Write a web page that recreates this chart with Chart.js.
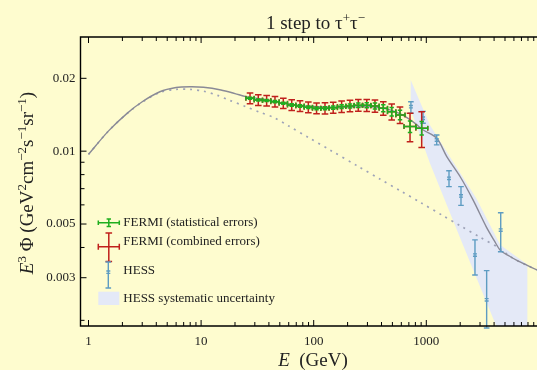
<!DOCTYPE html>
<html>
<head>
<meta charset="utf-8">
<script src="https://cdn.jsdelivr.net/npm/chart.js@4.4.1/dist/chart.umd.min.js"></script>
<style>
  html, body { margin: 0; padding: 0; background: #fefccf; overflow: hidden; }
  canvas { display: block; }
</style>
</head>
<body>
<canvas id="chart" width="537" height="370"></canvas>
<script>
// ---- values ----

// total model (signal + background), solid line
const modelE = [1, 1.5, 2.2, 3, 4.3, 6, 8, 10.5, 15, 20, 25, 35, 50, 70, 100, 150, 200, 300, 400, 500, 600, 700, 800, 940, 1240, 1520, 2000, 2600, 3400, 4000, 4540, 5500, 6500, 7800, 9620];
const modelV = [0.0097, 0.0121, 0.01433, 0.0160, 0.0176, 0.01832, 0.01845, 0.01836, 0.0179, 0.0173, 0.0168, 0.0164, 0.0159, 0.0155, 0.0153, 0.0152, 0.0152, 0.0153, 0.0151, 0.0147, 0.0142, 0.0136, 0.0130, 0.01223, 0.0113, 0.00949, 0.00784, 0.00629, 0.00488, 0.00428, 0.0039, 0.00368, 0.00352, 0.00338, 0.00323];

// background only, dotted line
const bgE = [1, 1.5, 2.2, 3, 4.3, 6, 8, 10.5, 14, 18, 25, 33, 44, 60, 90, 140, 250, 390, 600, 880, 1400, 2000, 3000, 4540, 5500, 6500, 7800, 9620];
const bgV = [0.0097, 0.0121, 0.0143, 0.01595, 0.0175, 0.0180, 0.0180, 0.0177, 0.0170, 0.0162, 0.01527, 0.0145, 0.0138, 0.0127, 0.01138, 0.0101, 0.00864, 0.00766, 0.00682, 0.00615, 0.00542, 0.00492, 0.00441, 0.00395, 0.00368, 0.00352, 0.00338, 0.00323];

// FERMI points
const fermiE   = [27.2, 32.2, 38.2, 45.3, 53.7, 63.8, 75.6, 89.6, 106, 126, 149, 177, 210, 249, 296, 350, 415, 493, 584, 717, 910];
const fermiELo = [25.0, 29.6, 35.1, 41.6, 49.3, 58.5, 69.4, 82.3, 97.5, 115.6, 137, 162.4, 192.8, 228.7, 271.5, 321.9, 381.1, 452.3, 536.6, 634, 808];
const fermiEHi = [29.6, 35.1, 41.6, 49.3, 58.5, 69.4, 82.3, 97.5, 115.6, 137, 162.4, 192.8, 228.7, 271.5, 321.9, 381.1, 452.3, 536.6, 647, 808, 1030];
const fermiV    = [0.01654, 0.01628, 0.01618, 0.01602, 0.01578, 0.01552, 0.01538, 0.01518, 0.01504, 0.01504, 0.01513, 0.01528, 0.01538, 0.01548, 0.01548, 0.01538, 0.01504, 0.01456, 0.01412, 0.01264, 0.01245];
const fermiStat = [0.00015, 0.00015, 0.00015, 0.00016, 0.00016, 0.00017, 0.00018, 0.00019, 0.0002, 0.00022, 0.00024, 0.00026, 0.0003, 0.00033, 0.00038, 0.00043, 0.0005, 0.0006, 0.00065, 0.0007, 0.0008];
const fermiComb = [0.00085, 0.00083, 0.0008, 0.0008, 0.00078, 0.00078, 0.00078, 0.00078, 0.00078, 0.0008, 0.0008, 0.00082, 0.00084, 0.00086, 0.00088, 0.0009, 0.00095, 0.0011, 0.0011, 0.0017, 0.0021];

// HESS points
const hessE  = [730, 935, 1237, 1591, 2033, 2706, 3436, 4581];
const hessV  = [0.01527, 0.01368, 0.01112, 0.00772, 0.00653, 0.00372, 0.00243, 0.00472];
const hessLo = [0.01434, 0.01304, 0.01062, 0.00714, 0.00597, 0.00308, 0.00186, 0.00384];
const hessHi = [0.01601, 0.0146, 0.01166, 0.0083, 0.00714, 0.0043, 0.00321, 0.00557];

// HESS systematic band outline
const bandE = [727, 1079, 1690, 2770, 4540, 7900, 7900, 4700, 2118, 1079, 730, 727];
const bandV = [0.0197, 0.0128, 0.0092, 0.0064, 0.0041, 0.0034, 0.0015, 0.00166, 0.0041, 0.0089, 0.0148, 0.0197];

// ticks
const xMajorTicks = [1, 10, 100, 1000];
const xMinorTicks = [2, 3, 4, 5, 6, 7, 8, 9, 20, 30, 40, 50, 60, 70, 80, 90, 200, 300, 400, 500, 600, 700, 800, 900, 2000, 3000, 4000, 5000, 6000, 7000, 8000, 9000];
const yMajorTicks = [0.003, 0.005, 0.01, 0.02];
const yMinorTicks = [0.002, 0.004, 0.006, 0.007, 0.008, 0.009];

const GREEN = '#1fae1f';
const RED = '#c0201c';
const HESS_BLUE = '#5e9cc2';
const BAND = '#e4e9f7';
const SERIF = '"Liberation Serif", "DejaVu Serif", serif';

const pts = (xs, ys) => xs.map((e, i) => ({ x: e, y: ys[i] }));

// vertical bar with horizontal caps
function vbar(ctx, x, y0, y1, cap) {
    ctx.beginPath();
    ctx.moveTo(x, y0); ctx.lineTo(x, y1);
    ctx.moveTo(x - cap, y0); ctx.lineTo(x + cap, y0);
    ctx.moveTo(x - cap, y1); ctx.lineTo(x + cap, y1);
    ctx.stroke();
}

// horizontal bar with vertical caps
function hbar(ctx, x0, x1, y, cap) {
    ctx.beginPath();
    ctx.moveTo(x0, y); ctx.lineTo(x1, y);
    ctx.moveTo(x0, y - cap); ctx.lineTo(x0, y + cap);
    ctx.moveTo(x1, y - cap); ctx.lineTo(x1, y + cap);
    ctx.stroke();
}

// text made of runs: [text, font, dy]
function richText(ctx, parts, x, y) {
    let w = 0;
    parts.forEach(p => { ctx.font = p[1]; w += ctx.measureText(p[0]).width; });
    let cx = x - w / 2;
    parts.forEach(p => {
        ctx.font = p[1];
        ctx.fillText(p[0], cx, y + p[2]);
        cx += ctx.measureText(p[0]).width;
    });
}

// error bars for the data points
const errorBars = {
    id: 'errorBars',
    afterDatasetsDraw(chart) {
        const { ctx, scales: { x, y }, chartArea: a } = chart;
        ctx.save();

        // HESS
        ctx.strokeStyle = HESS_BLUE;
        ctx.lineWidth = 1.4;
        hessE.forEach((e, i) => {
            const px = x.getPixelForValue(e);
            vbar(ctx, px, y.getPixelForValue(hessHi[i]), y.getPixelForValue(hessLo[i]), 2.8);
            const py = y.getPixelForValue(hessV[i]);
            ctx.beginPath();
            ctx.moveTo(px - 2, py - 1.2); ctx.lineTo(px + 2, py - 1.2);
            ctx.moveTo(px - 2, py + 1.2); ctx.lineTo(px + 2, py + 1.2);
            ctx.stroke();
        });

        ctx.beginPath();
        ctx.rect(a.left, a.top, a.right - a.left, a.bottom - a.top);
        ctx.clip();

        // FERMI combined errors
        ctx.strokeStyle = RED;
        ctx.lineWidth = 1.5;
        fermiE.forEach((e, i) => {
            const px = x.getPixelForValue(e);
            const py = y.getPixelForValue(fermiV[i]);
            vbar(ctx, px, y.getPixelForValue(fermiV[i] + fermiComb[i]), y.getPixelForValue(fermiV[i] - fermiComb[i]), 3.3);
            hbar(ctx, x.getPixelForValue(fermiELo[i]), x.getPixelForValue(fermiEHi[i]), py, 2.5);
        });

        // FERMI statistical errors
        ctx.strokeStyle = GREEN;
        ctx.lineWidth = 1.5;
        fermiE.forEach((e, i) => {
            const px = x.getPixelForValue(e);
            const py = y.getPixelForValue(fermiV[i]);
            hbar(ctx, x.getPixelForValue(fermiELo[i]), x.getPixelForValue(fermiEHi[i]), py, 2.2);
            vbar(ctx, px, y.getPixelForValue(fermiV[i] + fermiStat[i]), y.getPixelForValue(fermiV[i] - fermiStat[i]), 2.2);
        });
        ctx.restore();
    }
};

// frame, inward ticks, titles and legend
const decorations = {
    id: 'decorations',
    afterDraw(chart) {
        const { ctx, scales: { x, y }, chartArea: a } = chart;
        ctx.save();

        // frame (right side falls outside the picture)
        ctx.strokeStyle = '#000';
        ctx.lineWidth = 1.4;
        ctx.beginPath();
        ctx.moveTo(a.right + 2, a.top); ctx.lineTo(a.left, a.top);
        ctx.lineTo(a.left, a.bottom); ctx.lineTo(a.right + 2, a.bottom);
        ctx.stroke();

        ctx.lineWidth = 1;
        const xTick = (v, len) => {
            const px = x.getPixelForValue(v);
            ctx.beginPath();
            ctx.moveTo(px, a.bottom); ctx.lineTo(px, a.bottom - len);
            ctx.moveTo(px, a.top); ctx.lineTo(px, a.top + len);
            ctx.stroke();
        };
        const yTick = (v, len) => {
            const py = y.getPixelForValue(v);
            ctx.beginPath();
            ctx.moveTo(a.left, py); ctx.lineTo(a.left + len, py);
            ctx.stroke();
        };
        xMajorTicks.forEach(v => xTick(v, 6));
        xMinorTicks.forEach(v => xTick(v, 4));
        yMajorTicks.forEach(v => yTick(v, 6));
        yMinorTicks.forEach(v => yTick(v, 4));

        ctx.fillStyle = '#222';
        ctx.textBaseline = 'alphabetic';

        // title
        richText(ctx, [
            ['1 step to \u03c4', '19px ' + SERIF, 0],
            ['+', '13px ' + SERIF, -7],
            ['\u03c4', '19px ' + SERIF, 0],
            ['\u2212', '13px ' + SERIF, -7]
        ], 315.5, 29);

        // x axis title
        richText(ctx, [
            ['E', 'italic 19px ' + SERIF, 0],
            ['  (GeV)', '19px ' + SERIF, 0]
        ], 313, 366);

        // y axis title
        ctx.save();
        ctx.translate(33, 183);
        ctx.rotate(-Math.PI / 2);
        const big = '19px ' + SERIF, sup = '13px ' + SERIF;
        richText(ctx, [
            ['E', 'italic ' + big, 0],
            ['3', sup, -7.5],
            [' \u03a6 (GeV', big, 0],
            ['2', sup, -7.5],
            ['cm', big, 0],
            ['\u22122', sup, -7.5],
            ['s', big, 0],
            ['\u22121', sup, -7.5],
            ['sr', big, 0],
            ['\u22121', sup, -7.5],
            [')', big, 0]
        ], 0, 0);
        ctx.restore();

        // legend
        const sx = 108.8, tx = 123.3;
        ctx.lineWidth = 1.5;
        ctx.strokeStyle = GREEN;
        hbar(ctx, 98.3, 119.3, 222.7, 2.2);
        vbar(ctx, sx, 219, 226.4, 2.2);
        ctx.strokeStyle = RED;
        hbar(ctx, 98.3, 119.3, 246.7, 3);
        vbar(ctx, sx, 233, 261.5, 3.3);
        ctx.strokeStyle = HESS_BLUE;
        ctx.lineWidth = 1.4;
        vbar(ctx, 108.3, 262, 288, 2.8);
        ctx.beginPath();
        ctx.moveTo(106.3, 271); ctx.lineTo(110.3, 271);
        ctx.moveTo(106.3, 273.4); ctx.lineTo(110.3, 273.4);
        ctx.stroke();
        ctx.fillStyle = BAND;
        ctx.fillRect(98.3, 291.7, 21, 13.3);

        ctx.fillStyle = '#222';
        ctx.font = '13px ' + SERIF;
        ctx.textAlign = 'left';
        ctx.textBaseline = 'middle';
        ctx.fillText('FERMI (statistical errors)', tx, 222.7);
        ctx.fillText('FERMI (combined errors)', tx, 241.7);
        ctx.fillText('HESS', tx, 271);
        ctx.fillText('HESS systematic uncertainty', tx, 299);
        ctx.restore();
    }
};

new Chart(document.getElementById('chart'), {
    type: 'scatter',
    data: {
        datasets: [
            {
                data: pts(modelE, modelV),
                showLine: true,
                borderColor: '#8a8a96',
                borderWidth: 1.4,
                pointRadius: 0,
                tension: 0.3,
                order: 1
            },
            {
                data: pts(bgE, bgV),
                showLine: true,
                borderColor: '#9ea3b8',
                borderWidth: 1.7,
                borderDash: [2, 5],
                pointRadius: 0,
                tension: 0.3,
                order: 2
            },
            {
                data: pts(bandE, bandV),
                showLine: true,
                fill: 'shape',
                backgroundColor: BAND,
                borderWidth: 0,
                borderColor: 'rgba(0,0,0,0)',
                pointRadius: 0,
                order: 10
            }
        ]
    },
    options: {
        responsive: false,
        animation: false,
        devicePixelRatio: 1,
        layout: { padding: { top: 37, right: 0, left: 0, bottom: 0 } },
        plugins: {
            legend: { display: false },
            tooltip: { enabled: false },
            title: { display: false }
        },
        scales: {
            x: {
                type: 'logarithmic',
                min: 0.849,
                max: 9620,
                grid: { display: false, drawTicks: false },
                border: { display: false },
                afterBuildTicks: s => { s.ticks = xMajorTicks.map(v => ({ value: v })); },
                afterFit: s => { s.height = 44; },
                ticks: {
                    autoSkip: false,
                    maxRotation: 0,
                    padding: 8,
                    color: '#222',
                    font: { family: SERIF, size: 13 },
                    callback: v => String(v)
                }
            },
            y: {
                type: 'logarithmic',
                min: 0.001895,
                max: 0.02963,
                grid: { display: false, drawTicks: false },
                border: { display: false },
                afterBuildTicks: s => { s.ticks = yMajorTicks.map(v => ({ value: v })); },
                afterFit: s => { s.width = 80.5; },
                ticks: {
                    autoSkip: false,
                    padding: 5,
                    color: '#222',
                    font: { family: SERIF, size: 13 },
                    callback: v => String(v)
                }
            }
        }
    },
    plugins: [errorBars, decorations]
});
</script>
</body>
</html>
